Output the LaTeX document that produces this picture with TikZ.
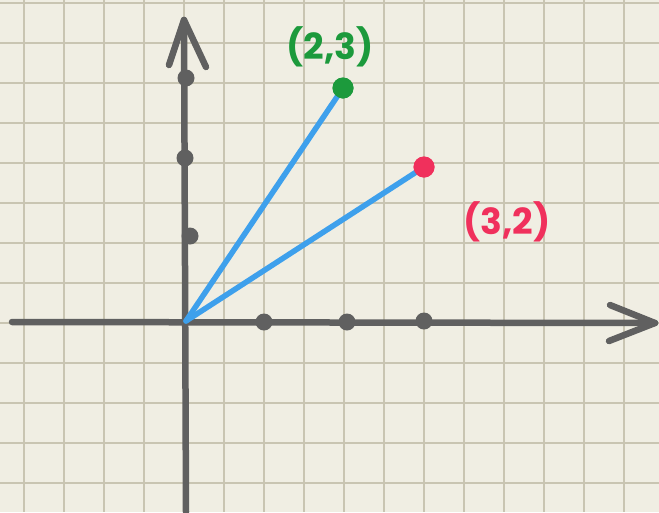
\documentclass[tikz,border=0pt]{standalone}
\usepackage{fontspec}
\setmainfont{Poppins}
\definecolor{paper}{HTML}{F0EEE3}
\definecolor{gridc}{HTML}{C9C5B2}
\definecolor{axisc}{HTML}{606060}
\definecolor{vecc}{HTML}{3EA0EC}
\definecolor{greenc}{HTML}{1C9A3C}
\definecolor{redc}{HTML}{F0305C}
\begin{document}
\begin{tikzpicture}[x=1pt,y=-1pt,
  gridline/.style={draw=gridc,line width=1.6pt},
  axisline/.style={draw=axisc,line width=6.5pt,line cap=round,line join=round},
  tickdot/.style={circle,fill=axisc,inner sep=0pt,minimum size=17pt},
  vecline/.style={draw=vecc,line width=5.5pt,line cap=round},
  ptdot/.style={circle,inner sep=0pt,minimum size=21pt},
  lbl/.style={font=\fontsize{36}{36}\selectfont\bfseries}]
\fill[paper] (0,0) rectangle (659,512);
\useasboundingbox (0,0) rectangle (659,512);
\foreach \x in {24,64,...,659} \draw[gridline] (\x,0) -- (\x,512);
\foreach \y in {3,43,...,512} \draw[gridline] (0,\y) -- (659,\y);
% axes
\coordinate (O) at (186,321);
\coordinate (xs) at (12,322);
\coordinate (xe) at (655,323);
\coordinate (ys) at (186,512);
\coordinate (ye) at (184,20);
\draw[axisline] (xs) -- (xe);
\draw[axisline] (ys) -- (ye);
\coordinate (xa1) at (610,305);
\coordinate (xa2) at (609,341);
\draw[axisline] (xa1) -- (xe) -- (xa2);
\coordinate (ya1) at (169,65);
\coordinate (ya2) at (206,67);
\draw[axisline] (ya1) -- (ye) -- (ya2);
% ticks
\node[tickdot] (x1) at (264,322) {};
\node[tickdot] (x2) at (347,322) {};
\node[tickdot] (x3) at (424,321) {};
\node[tickdot] (y1) at (190,236) {};
\node[tickdot] (y2) at (185,158) {};
\node[tickdot] (y3) at (186,78) {};
% vectors
\node[ptdot,fill=greenc] (g) at (343,88) {};
\node[ptdot,fill=redc] (r) at (424,167) {};
\draw[vecline] (O) -- (g.center);
\draw[vecline] (O) -- (r.center);
\fill[greenc] (g) circle (10.5pt);
\fill[redc] (r) circle (10.5pt);
% labels
\node[lbl,text=greenc] (gl) at (330,47) {(2,3)};
\node[lbl,text=redc] (rl) at (507,222) {(3,2)};
\end{tikzpicture}
\end{document}
